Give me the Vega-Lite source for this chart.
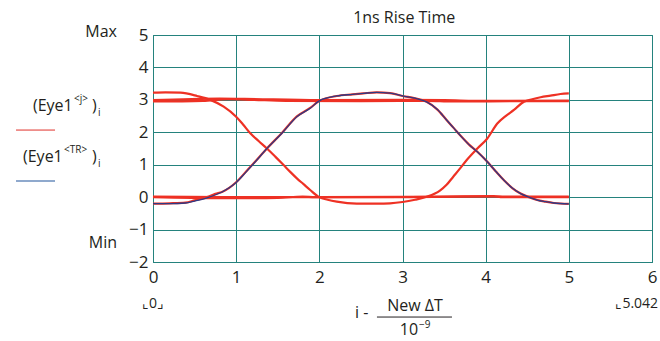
{
  "$schema": "https://vega.github.io/schema/vega-lite/v6.json",
  "width": 499,
  "height": 227,
  "autosize": {"type": "none"},
  "padding": {"left": 153, "top": 35, "right": 8, "bottom": 79},
  "config": {
    "view": {"stroke": "#24827d", "strokeWidth": 1},
    "axis": {"domainColor": "#24827d", "gridColor": "#24827d", "gridOpacity": 1, "grid": true, "ticks": false, "format": "d", "labelFont": "Open Sans", "labelFontSize": 17, "labelColor": "#231f20", "labelFlush": false, "labelOverlap": false, "labelBound": false, "title": null},
    "axisX": {"tickCount": 7, "labelPadding": 7},
    "axisY": {"tickCount": 8, "labelPadding": 5},
    "text": {"font": "Open Sans", "color": "#231f20", "clip": false}
  },
  "datasets": {
    "traces": [
      {"s": "B", "x": 0.0, "y": -0.2}, {"s": "B", "x": 0.2, "y": -0.2}, {"s": "B", "x": 0.39, "y": -0.18}, {"s": "B", "x": 0.5, "y": -0.12}, {"s": "B", "x": 0.65, "y": -0.02}, {"s": "B", "x": 0.83, "y": 0.16}, {"s": "B", "x": 1.0, "y": 0.45}, {"s": "B", "x": 1.12, "y": 0.78}, {"s": "B", "x": 1.23, "y": 1.09}, {"s": "B", "x": 1.37, "y": 1.5}, {"s": "B", "x": 1.55, "y": 1.97}, {"s": "B", "x": 1.73, "y": 2.48}, {"s": "B", "x": 1.89, "y": 2.74}, {"s": "B", "x": 2.0, "y": 2.97}, {"s": "B", "x": 2.21, "y": 3.12}, {"s": "B", "x": 2.4, "y": 3.17}, {"s": "B", "x": 2.53, "y": 3.2}, {"s": "B", "x": 2.69, "y": 3.23}, {"s": "B", "x": 2.85, "y": 3.21}, {"s": "B", "x": 3.0, "y": 3.12}, {"s": "B", "x": 3.15, "y": 3.05}, {"s": "B", "x": 3.29, "y": 2.94}, {"s": "B", "x": 3.42, "y": 2.7}, {"s": "B", "x": 3.53, "y": 2.38}, {"s": "B", "x": 3.62, "y": 2.12}, {"s": "B", "x": 3.71, "y": 1.86}, {"s": "B", "x": 3.8, "y": 1.62}, {"s": "B", "x": 3.9, "y": 1.4}, {"s": "B", "x": 4.02, "y": 1.09}, {"s": "B", "x": 4.12, "y": 0.8}, {"s": "B", "x": 4.22, "y": 0.52}, {"s": "B", "x": 4.32, "y": 0.28}, {"s": "B", "x": 4.42, "y": 0.11}, {"s": "B", "x": 4.52, "y": 0.0}, {"s": "B", "x": 4.62, "y": -0.09}, {"s": "B", "x": 4.72, "y": -0.14}, {"s": "B", "x": 4.82, "y": -0.18}, {"s": "B", "x": 5.0, "y": -0.21},
      {"s": "R4", "x": 0.0, "y": -0.2}, {"s": "R4", "x": 0.2, "y": -0.19}, {"s": "R4", "x": 0.39, "y": -0.17}, {"s": "R4", "x": 0.5, "y": -0.1}, {"s": "R4", "x": 0.65, "y": 0.0}, {"s": "R4", "x": 0.75, "y": 0.1}, {"s": "R4", "x": 0.83, "y": 0.16}, {"s": "R4", "x": 1.0, "y": 0.46}, {"s": "R4", "x": 1.12, "y": 0.79}, {"s": "R4", "x": 1.23, "y": 1.1}, {"s": "R4", "x": 1.37, "y": 1.5}, {"s": "R4", "x": 1.55, "y": 1.98}, {"s": "R4", "x": 1.73, "y": 2.49}, {"s": "R4", "x": 1.89, "y": 2.75}, {"s": "R4", "x": 2.0, "y": 2.97}, {"s": "R4", "x": 2.21, "y": 3.12}, {"s": "R4", "x": 2.4, "y": 3.17}, {"s": "R4", "x": 2.53, "y": 3.2}, {"s": "R4", "x": 2.69, "y": 3.23}, {"s": "R4", "x": 2.85, "y": 3.21}, {"s": "R4", "x": 3.0, "y": 3.12}, {"s": "R4", "x": 3.15, "y": 3.05}, {"s": "R4", "x": 3.29, "y": 2.94}, {"s": "R4", "x": 3.42, "y": 2.7}, {"s": "R4", "x": 3.53, "y": 2.38}, {"s": "R4", "x": 3.62, "y": 2.12}, {"s": "R4", "x": 3.71, "y": 1.86}, {"s": "R4", "x": 3.8, "y": 1.62}, {"s": "R4", "x": 3.9, "y": 1.4}, {"s": "R4", "x": 4.02, "y": 1.09}, {"s": "R4", "x": 4.12, "y": 0.8}, {"s": "R4", "x": 4.22, "y": 0.52}, {"s": "R4", "x": 4.32, "y": 0.28}, {"s": "R4", "x": 4.42, "y": 0.11}, {"s": "R4", "x": 4.52, "y": 0.0}, {"s": "R4", "x": 4.62, "y": -0.09}, {"s": "R4", "x": 4.72, "y": -0.14}, {"s": "R4", "x": 4.82, "y": -0.18}, {"s": "R4", "x": 5.0, "y": -0.21},
      {"s": "R3", "x": 0.0, "y": 3.22}, {"s": "R3", "x": 0.15, "y": 3.23}, {"s": "R3", "x": 0.33, "y": 3.22}, {"s": "R3", "x": 0.53, "y": 3.12}, {"s": "R3", "x": 0.69, "y": 3.0}, {"s": "R3", "x": 0.85, "y": 2.79}, {"s": "R3", "x": 1.0, "y": 2.48}, {"s": "R3", "x": 1.08, "y": 2.25}, {"s": "R3", "x": 1.17, "y": 1.97}, {"s": "R3", "x": 1.27, "y": 1.73}, {"s": "R3", "x": 1.37, "y": 1.5}, {"s": "R3", "x": 1.47, "y": 1.25}, {"s": "R3", "x": 1.57, "y": 0.99}, {"s": "R3", "x": 1.65, "y": 0.78}, {"s": "R3", "x": 1.73, "y": 0.58}, {"s": "R3", "x": 1.81, "y": 0.4}, {"s": "R3", "x": 1.89, "y": 0.22}, {"s": "R3", "x": 2.0, "y": 0.0}, {"s": "R3", "x": 2.1, "y": -0.08}, {"s": "R3", "x": 2.21, "y": -0.14}, {"s": "R3", "x": 2.45, "y": -0.2}, {"s": "R3", "x": 2.7, "y": -0.2}, {"s": "R3", "x": 2.85, "y": -0.19}, {"s": "R3", "x": 3.0, "y": -0.15}, {"s": "R3", "x": 3.15, "y": -0.08}, {"s": "R3", "x": 3.29, "y": 0.01}, {"s": "R3", "x": 3.45, "y": 0.2}, {"s": "R3", "x": 3.53, "y": 0.38}, {"s": "R3", "x": 3.61, "y": 0.63}, {"s": "R3", "x": 3.69, "y": 0.88}, {"s": "R3", "x": 3.77, "y": 1.14}, {"s": "R3", "x": 3.9, "y": 1.5}, {"s": "R3", "x": 4.02, "y": 1.81}, {"s": "R3", "x": 4.14, "y": 2.27}, {"s": "R3", "x": 4.24, "y": 2.5}, {"s": "R3", "x": 4.34, "y": 2.69}, {"s": "R3", "x": 4.46, "y": 2.94}, {"s": "R3", "x": 4.56, "y": 3.02}, {"s": "R3", "x": 4.66, "y": 3.08}, {"s": "R3", "x": 4.78, "y": 3.13}, {"s": "R3", "x": 4.9, "y": 3.18}, {"s": "R3", "x": 5.0, "y": 3.2},
      {"s": "R1", "x": 0.0, "y": 2.95}, {"s": "R1", "x": 0.6, "y": 2.97}, {"s": "R1", "x": 0.9, "y": 3.02}, {"s": "R1", "x": 1.2, "y": 3.0}, {"s": "R1", "x": 1.6, "y": 2.97}, {"s": "R1", "x": 2.5, "y": 2.96}, {"s": "R1", "x": 3.3, "y": 2.97}, {"s": "R1", "x": 3.6, "y": 2.95}, {"s": "R1", "x": 4.5, "y": 2.96}, {"s": "R1", "x": 5.0, "y": 2.96},
      {"s": "R1b", "x": 0.0, "y": 2.99}, {"s": "R1b", "x": 0.8, "y": 3.04}, {"s": "R1b", "x": 1.1, "y": 3.03}, {"s": "R1b", "x": 2.0, "y": 2.99}, {"s": "R1b", "x": 3.0, "y": 3.0}, {"s": "R1b", "x": 3.5, "y": 2.99}, {"s": "R1b", "x": 4.0, "y": 2.97}, {"s": "R1b", "x": 5.0, "y": 2.98},
      {"s": "R2", "x": 0.0, "y": 0.0}, {"s": "R2", "x": 0.8, "y": -0.03}, {"s": "R2", "x": 1.2, "y": -0.03}, {"s": "R2", "x": 1.5, "y": -0.02}, {"s": "R2", "x": 1.8, "y": 0.02}, {"s": "R2", "x": 1.95, "y": 0.0}, {"s": "R2", "x": 3.0, "y": 0.0}, {"s": "R2", "x": 4.1, "y": 0.03}, {"s": "R2", "x": 4.2, "y": 0.0}, {"s": "R2", "x": 5.0, "y": 0.0},
      {"s": "R2b", "x": 0.0, "y": 0.02}, {"s": "R2b", "x": 1.0, "y": 0.0}, {"s": "R2b", "x": 2.0, "y": 0.0}, {"s": "R2b", "x": 3.0, "y": 0.01}, {"s": "R2b", "x": 4.0, "y": 0.02}, {"s": "R2b", "x": 5.0, "y": 0.02}
    ]
  },
  "layer": [
    {
      "data": {"name": "traces"},
      "transform": [{"filter": "datum.s != 'B'"}],
      "mark": {"type": "line", "stroke": "#ee3124", "strokeWidth": 2.2, "interpolate": "monotone"},
      "encoding": {
        "x": {"field": "x", "type": "quantitative", "scale": {"domain": [0, 6], "nice": false, "zero": false}},
        "y": {"field": "y", "type": "quantitative", "scale": {"domain": [-2, 5], "nice": false, "zero": false}},
        "detail": {"field": "s"}
      }
    },
    {
      "data": {"name": "traces"},
      "transform": [{"filter": "datum.s == 'B'"}],
      "mark": {"type": "line", "stroke": "#2e3a85", "strokeWidth": 1.3, "interpolate": "monotone"},
      "encoding": {
        "x": {"field": "x", "type": "quantitative"},
        "y": {"field": "y", "type": "quantitative"}
      }
    },
    {"data": {"values": [{"t": "1ns Rise Time"}]}, "mark": {"type": "text", "align": "center", "baseline": "middle", "fontSize": 16}, "encoding": {"x": {"datum": 3.02}, "y": {"datum": 5.53}, "text": {"field": "t"}}},
    {"data": {"values": [{"t": "Max"}]}, "mark": {"type": "text", "align": "right", "baseline": "middle", "fontSize": 16}, "encoding": {"x": {"datum": -0.433}, "y": {"datum": 5.09}, "text": {"field": "t"}}},
    {"data": {"values": [{"t": "Min"}]}, "mark": {"type": "text", "align": "right", "baseline": "middle", "fontSize": 16}, "encoding": {"x": {"datum": -0.433}, "y": {"datum": -1.415}, "text": {"field": "t"}}},
    {"data": {"values": [{"t": "(Eye1"}]}, "mark": {"type": "text", "align": "left", "baseline": "middle", "fontSize": 16}, "encoding": {"x": {"datum": -1.443}, "y": {"datum": 2.81}, "text": {"field": "t"}}},
    {"data": {"values": [{"t": "<j>"}]}, "mark": {"type": "text", "align": "left", "baseline": "middle", "fontSize": 10, "dy": -7}, "encoding": {"x": {"datum": -0.95}, "y": {"datum": 2.81}, "text": {"field": "t"}}},
    {"data": {"values": [{"t": ")"}]}, "mark": {"type": "text", "align": "left", "baseline": "middle", "fontSize": 16}, "encoding": {"x": {"datum": -0.733}, "y": {"datum": 2.81}, "text": {"field": "t"}}},
    {"data": {"values": [{"t": "i"}]}, "mark": {"type": "text", "align": "left", "baseline": "middle", "fontSize": 10, "dy": 7}, "encoding": {"x": {"datum": -0.661}, "y": {"datum": 2.81}, "text": {"field": "t"}}},
    {"data": {"values": [{"t": "(Eye1"}]}, "mark": {"type": "text", "align": "left", "baseline": "middle", "fontSize": 16}, "encoding": {"x": {"datum": -1.563}, "y": {"datum": 1.236}, "text": {"field": "t"}}},
    {"data": {"values": [{"t": "<TR>"}]}, "mark": {"type": "text", "align": "left", "baseline": "middle", "fontSize": 10, "dy": -7}, "encoding": {"x": {"datum": -1.07}, "y": {"datum": 1.236}, "text": {"field": "t"}}},
    {"data": {"values": [{"t": ")"}]}, "mark": {"type": "text", "align": "left", "baseline": "middle", "fontSize": 16}, "encoding": {"x": {"datum": -0.733}, "y": {"datum": 1.236}, "text": {"field": "t"}}},
    {"data": {"values": [{"t": "i"}]}, "mark": {"type": "text", "align": "left", "baseline": "middle", "fontSize": 10, "dy": 7}, "encoding": {"x": {"datum": -0.661}, "y": {"datum": 1.236}, "text": {"field": "t"}}},
    {"data": {"values": [{"k": "red"}]}, "mark": {"type": "rule", "stroke": "#e0312a", "strokeWidth": 1, "clip": false}, "encoding": {"x": {"datum": -1.647}, "x2": {"datum": -1.178}, "y": {"datum": 2.069}}},
    {"data": {"values": [{"k": "blue"}]}, "mark": {"type": "rule", "stroke": "#6a8cbc", "strokeWidth": 1.5, "clip": false}, "encoding": {"x": {"datum": -1.647}, "x2": {"datum": -1.178}, "y": {"datum": 0.496}}},
    {"data": {"values": [{"t": "⌞0⌟"}]}, "mark": {"type": "text", "align": "center", "baseline": "middle", "fontSize": 14}, "encoding": {"x": {"datum": 0}, "y": {"datum": -3.3}, "text": {"field": "t"}}},
    {"data": {"values": [{"t": "⌞5.042"}]}, "mark": {"type": "text", "align": "left", "baseline": "middle", "fontSize": 14}, "encoding": {"x": {"datum": 5.56}, "y": {"datum": -3.3}, "text": {"field": "t"}}},
    {"data": {"values": [{"t": "i -"}]}, "mark": {"type": "text", "align": "left", "baseline": "middle", "fontSize": 16}, "encoding": {"x": {"datum": 2.429}, "y": {"datum": -3.574}, "text": {"field": "t"}}},
    {"data": {"values": [{"t": "New ΔT"}]}, "mark": {"type": "text", "align": "center", "baseline": "middle", "fontSize": 16}, "encoding": {"x": {"datum": 3.15}, "y": {"datum": -3.358}, "text": {"field": "t"}}},
    {"data": {"values": [{"k": "bar"}]}, "mark": {"type": "rule", "stroke": "#231f20", "strokeWidth": 1, "clip": false}, "encoding": {"x": {"datum": 2.693}, "x2": {"datum": 3.595}, "y": {"datum": -3.697}}},
    {"data": {"values": [{"t": "10"}]}, "mark": {"type": "text", "align": "center", "baseline": "middle", "fontSize": 16}, "encoding": {"x": {"datum": 3.078}, "y": {"datum": -4.098}, "text": {"field": "t"}}},
    {"data": {"values": [{"t": "−9"}]}, "mark": {"type": "text", "align": "left", "baseline": "middle", "fontSize": 10, "dy": -5}, "encoding": {"x": {"datum": 3.198}, "y": {"datum": -4.098}, "text": {"field": "t"}}}
  ]
}
